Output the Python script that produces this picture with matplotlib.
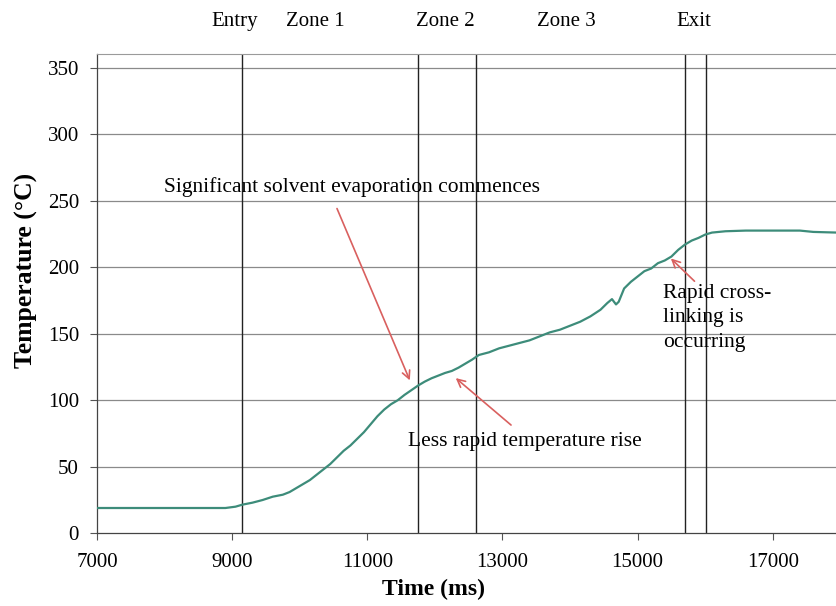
import matplotlib
matplotlib.use("Agg")
import matplotlib.pyplot as plt
from matplotlib import transforms

plt.rcParams['font.family'] = ['Liberation Serif', 'DejaVu Serif']

# temperature trace read along the oven run
time_ms = [7000, 7500, 8000, 8500, 8900, 9050, 9150, 9300, 9450, 9600, 9750,
           9850, 9950, 10050, 10150, 10250, 10350, 10450, 10550, 10650, 10750,
           10850, 10950, 11050, 11150, 11250, 11350, 11450, 11550, 11650, 11750,
           11850, 11950, 12050, 12150, 12250, 12350, 12450, 12550, 12650, 12800,
           12950, 13100, 13250, 13400, 13550, 13700, 13850, 14000, 14150, 14300,
           14450, 14550, 14620, 14680, 14720, 14800, 14900, 15000, 15100, 15200,
           15300, 15400, 15500, 15600, 15700, 15800, 15900, 16000, 16100, 16300,
           16600, 17000, 17400, 17600, 17950]
temp_c = [19, 19, 19, 19, 19, 20, 21.5, 23, 25, 27.5, 29,
          31, 34, 37, 40, 44, 48, 52, 57, 62, 66,
          71, 76, 82, 88, 93, 97, 100, 104, 107.5, 111,
          114, 116.5, 118.5, 120.5, 122, 124.5, 127.5, 130.5, 134, 136,
          139, 141, 143, 145, 148, 151, 153, 156, 159, 163,
          168, 173, 176, 172, 174, 184, 189, 193, 197, 199,
          203, 205, 208, 213, 217, 220, 222, 224.5, 226, 227,
          227.5, 227.5, 227.5, 226.5, 226]

zone_bounds = [9140, 11750, 12610, 15700, 16010]
zone_names = ['Entry', 'Zone 1', 'Zone 2', 'Zone 3', 'Exit']
zone_label_x = [9040, 10230, 12150, 13950, 15830]

y_ticks = [0, 50, 100, 150, 200, 250, 300, 350]
x_ticks = [7000, 9000, 11000, 13000, 15000, 17000]

fig = plt.figure(figsize=(8.37, 6.06), dpi=100)
ax = fig.add_axes([0.1159, 0.12, 0.8841, 0.7904])

ax.set_xlim(7000, 17950)
ax.set_ylim(0, 360)

for yv in y_ticks[1:]:
    ax.axhline(yv, color='#8a8a8a', lw=0.9, zorder=1)
for xv in zone_bounds:
    ax.axvline(xv, color='#222222', lw=1.0, zorder=2)

ax.plot(time_ms, temp_c, color='#3d8c7a', lw=1.6, zorder=3)

ax.set_xticks(x_ticks)
ax.set_yticks(y_ticks)
ax.tick_params(labelsize=15, length=5, width=0.8, color='#555555')
ax.tick_params(axis='x', pad=9)
ax.tick_params(axis='y', pad=8)
ax.set_xlabel('Time (ms)', fontsize=17, fontweight='bold')
ax.set_ylabel('Temperature (°C)', fontsize=18.5, fontweight='bold')
ax.xaxis.set_label_coords(0.455, -0.095)
ax.yaxis.set_label_coords(-0.096, 0.548)
ax.yaxis.label.set_va('center')

for side in ['left', 'bottom']:
    ax.spines[side].set_color('#444444')
    ax.spines[side].set_linewidth(0.9)
ax.spines['top'].set_color('#9a9a9a')
ax.spines['right'].set_visible(False)

# zone names above the plot area
trans = transforms.blended_transform_factory(ax.transData, fig.transFigure)
for name, xv in zip(zone_names, zone_label_x):
    ax.text(xv, 0.965, name, transform=trans, ha='center', va='center',
            fontsize=15, clip_on=False)

arrow = dict(arrowstyle='->', color='#d9605f', lw=1.2, mutation_scale=14)
ax.annotate('', xy=(11645, 113), xytext=(10535, 246), arrowprops=arrow)
ax.text(10775, 260, 'Significant solvent evaporation commences',
        ha='center', va='center', fontsize=15.5)

ax.annotate('', xy=(12277, 118), xytext=(13158, 80), arrowprops=arrow)
ax.text(13330, 69, 'Less rapid temperature rise', ha='center', va='center',
        fontsize=15.5)

ax.annotate('', xy=(15462, 208), xytext=(15871, 188), arrowprops=arrow)
ax.text(15370, 162, 'Rapid cross-\nlinking is\noccurring', ha='left', va='center',
        fontsize=15.5, linespacing=1.4)

fig.savefig('out.png', dpi=100)
